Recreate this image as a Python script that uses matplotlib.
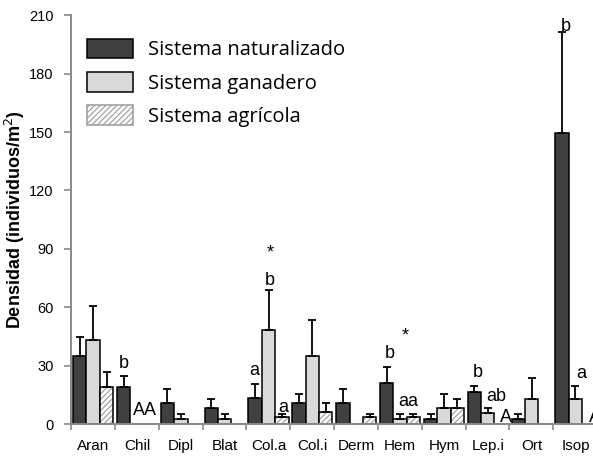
import matplotlib
matplotlib.use("Agg")
import matplotlib.pyplot as plt
import numpy as np
from matplotlib.patches import Patch

# data
categorias = ["Aran", "Chil", "Dipl", "Blat", "Col.a", "Col.i", "Derm",
              "Hem", "Hym", "Lep.i", "Ort", "Isop"]
series = ["Sistema naturalizado", "Sistema ganadero", "Sistema agrícola"]

naturalizado = [35.1, 18.9, 10.8, 8.4, 13.2, 10.8, 10.8, 21.3, 2.6, 16.5, 2.6, 149.5]
naturalizado_err = [9.6, 5.6, 7.1, 4.7, 7.2, 4.8, 7.2, 8.0, 2.4, 3.2, 2.4, 52.0]
ganadero = [43.4, 0, 2.6, 2.6, 48.2, 35.1, 0, 2.5, 8.4, 5.9, 13.1, 13.1]
ganadero_err = [17.4, 0, 2.6, 2.6, 20.8, 18.5, 0, 2.5, 7.2, 2.5, 10.7, 6.6]
agricola = [18.9, 0, 0, 0, 3.5, 6.1, 3.5, 3.5, 8.4, 0, 0, 0]
agricola_err = [8.0, 0, 0, 0, 1.5, 4.7, 1.5, 1.5, 4.7, 0, 0, 0]

# letras de significancia: (categoria, desplazamiento, texto, y)
letras = [
    (1, -0.30, "b", 29.0),
    (1, 0.18, "AA", 4.7),
    (4, -0.31, "a", 25.0),
    (4, 0.04, "b", 71.3),
    (4, 0.33, "a", 6.1),
    (7, -0.24, "b", 33.8),
    (7, 0.20, "aa", 9.5),
    (9, -0.22, "b", 24.3),
    (9, 0.19, "ab", 12.0),
    (9, 0.41, "A", 1.2),
    (11, -0.22, "b", 202.0),
    (11, 0.13, "a", 23.5),
    (11, 0.45, "A", 1.2),
]
asteriscos = [(4, 0.04, 88.0), (7, 0.13, 45.0)]


def main():
    plt.rcParams["font.family"] = ["Liberation Sans", "DejaVu Sans"]
    plt.rcParams["hatch.linewidth"] = 0.8

    fig = plt.figure(figsize=(5.93, 4.57), dpi=100)
    ax = fig.add_axes([71 / 593, 32.9 / 457, 526.2 / 593, 408.9 / 457])

    x = np.arange(len(categorias)) + 0.505
    w = 0.305
    gris = "#898989"
    ekw = dict(ecolor="black", elinewidth=1.3, capsize=2.6, capthick=1.3)

    ax.bar(x - w, naturalizado, w, color="#404040", edgecolor="black", lw=1.1,
           yerr=[np.zeros(12), naturalizado_err], error_kw=ekw)
    ax.bar(x, ganadero, w, color="#d9d9d9", edgecolor="black", lw=1.1,
           yerr=[np.zeros(12), ganadero_err], error_kw=ekw)
    # hatched bars: hatch layer in grey, outline in black
    ax.bar(x + w, agricola, w, color="white", edgecolor="#9a9a9a", lw=0,
           hatch="//////")
    ax.bar(x + w, agricola, w, fill=False, edgecolor="black", lw=1.1,
           yerr=[np.zeros(12), agricola_err], error_kw=ekw)

    for cat, dx, txt, y in letras:
        ax.text(cat + 0.5 + dx, y, txt, ha="center", va="baseline",
                fontsize=13, clip_on=False)
    for cat, dx, y in asteriscos:
        ax.text(cat + 0.5 + dx, y, "*", ha="center", va="center", fontsize=13)

    ax.set_xlim(0, len(categorias))
    ax.set_ylim(0, 210)
    ax.set_yticks(np.arange(0, 211, 30))
    ax.set_xticks(np.arange(0, len(categorias) + 1))
    ax.set_xticklabels([])
    ax.set_xticks(x, minor=True)
    ax.set_xticklabels(categorias, minor=True, fontsize=11)
    ax.tick_params(axis="x", which="major", direction="out", length=4,
                   color=gris, width=1.2)
    ax.tick_params(axis="x", which="minor", length=0, pad=10.5)
    ax.tick_params(axis="y", direction="out", length=5, color=gris, width=1.2,
                   labelsize=10.5, pad=7.5)

    for s in ["top", "right"]:
        ax.spines[s].set_visible(False)
    for s in ["left", "bottom"]:
        ax.spines[s].set_color(gris)
        ax.spines[s].set_linewidth(1.4)

    ax.set_ylabel("Densidad (individuos/m$^{2}$)", fontsize=13, fontweight="bold")
    ax.yaxis.set_label_coords(-0.084, 0.5)

    handles = [
        Patch(facecolor="#404040", edgecolor="black", lw=1.1),
        Patch(facecolor="#d9d9d9", edgecolor="black", lw=1.1),
        Patch(facecolor="white", edgecolor="#9a9a9a", hatch="//////", lw=1.1),
    ]
    ax.legend(handles, series, loc="upper left",
              bbox_to_anchor=(0.030, 0.943), frameon=False, borderpad=0,
              borderaxespad=0,
              prop={"family": "Open Sans", "size": 14.5},
              handlelength=2.3, handleheight=1.15, labelspacing=0.57,
              handletextpad=0.75)

    fig.savefig("out.png", dpi=100)


if __name__ == "__main__":
    main()
